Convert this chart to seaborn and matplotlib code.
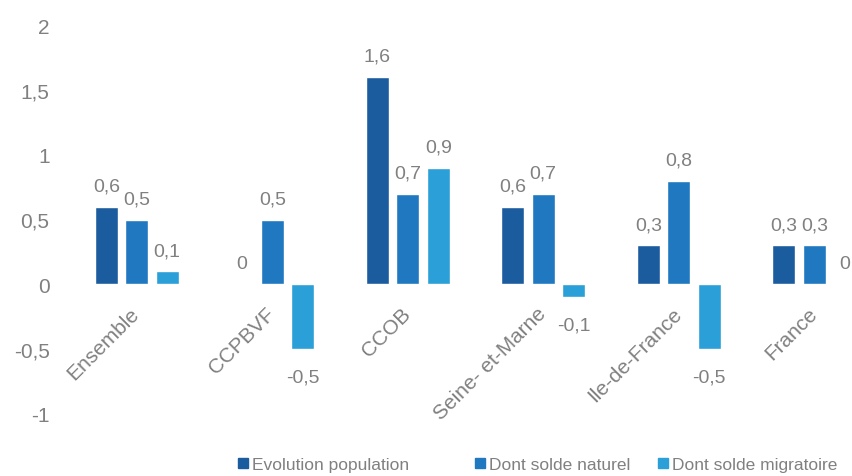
import matplotlib
matplotlib.use("Agg")
import matplotlib.pyplot as plt
import seaborn as sns
import pandas as pd
from matplotlib.ticker import FuncFormatter
from matplotlib.lines import Line2D

categories = ["Ensemble", "CCPBVF", "CCOB", "Seine- et-Marne", "Ile-de-France", "France"]
series_names = ["Evolution population", "Dont solde naturel", "Dont solde migratoire"]
evolution = [0.6, 0.0, 1.6, 0.6, 0.3, 0.3]
naturel = [0.5, 0.5, 0.7, 0.7, 0.8, 0.3]
migratoire = [0.1, -0.5, 0.9, -0.1, -0.5, 0.0]
y_ticks = [-1, -0.5, 0, 0.5, 1, 1.5, 2]
colors = ["#1b5c9e", "#1f78c0", "#2a9fd8"]

rows = []
for name, vals in zip(series_names, [evolution, naturel, migratoire]):
    for c, v in zip(categories, vals):
        rows.append({"cat": c, "serie": name, "val": v})
df = pd.DataFrame(rows)

sns.set_theme(style="white")
plt.rcParams["font.family"] = ["Liberation Sans", "DejaVu Sans"]
grey = "#808080"

fig = plt.figure(figsize=(8.53, 4.77), dpi=100)
ax = fig.add_axes([69/853, (477-415)/477, (882-69)/853, (415-26)/477])

sns.barplot(data=df, x="cat", y="val", hue="serie", order=categories,
            hue_order=series_names, palette=colors, width=0.675, gap=0.245,
            saturation=1, ax=ax, legend=False, errorbar=None)

ax.set_xlim(-0.5, 5.5)
ax.set_ylim(-1, 2)
ax.set_yticks(y_ticks)
fmt = lambda v, p: (("%g" % v).replace(".", ","))
ax.yaxis.set_major_formatter(FuncFormatter(fmt))
ax.tick_params(axis="y", length=0, pad=14, labelsize=15, labelcolor=grey)
ax.set_xlabel("")
ax.set_ylabel("")
for s in ["top", "right", "left", "bottom"]:
    ax.spines[s].set_visible(False)
ax.tick_params(axis="x", length=0, labelbottom=False)

# category labels at the zero line
for i, cat in enumerate(categories):
    ax.annotate(cat, (i, 0), xytext=(-5, -14), textcoords="offset points",
                ha="right", va="top", rotation=45, rotation_mode="anchor",
                fontsize=15, color=grey)

# data labels
for cont, vals in zip(ax.containers, [evolution, naturel, migratoire]):
    for patch, v in zip(cont.patches, vals):
        xc = patch.get_x() + patch.get_width() / 2
        txt = fmt(v, None)
        if v >= 0:
            ax.annotate(txt, (xc, v), xytext=(0, 15), textcoords="offset points",
                        ha="center", va="center", fontsize=14, color=grey)
        else:
            ax.annotate(txt, (xc, v), xytext=(0, -20), textcoords="offset points",
                        ha="center", va="center", fontsize=14, color=grey)

legend_x = [238, 475, 658]
for c, name, lx in zip(colors, series_names, legend_x):
    h = Line2D([0], [0], marker="s", linestyle="none", markersize=6.5,
               markerfacecolor=c, markeredgecolor=c)
    fig.legend([h], [name], loc="center left", bbox_to_anchor=(lx/853, 1 - 465/477),
               frameon=False, fontsize=12.5, labelcolor=grey, borderpad=0,
               borderaxespad=0, handlelength=0.6, handletextpad=0.2)

fig.savefig("out.png", dpi=100)
